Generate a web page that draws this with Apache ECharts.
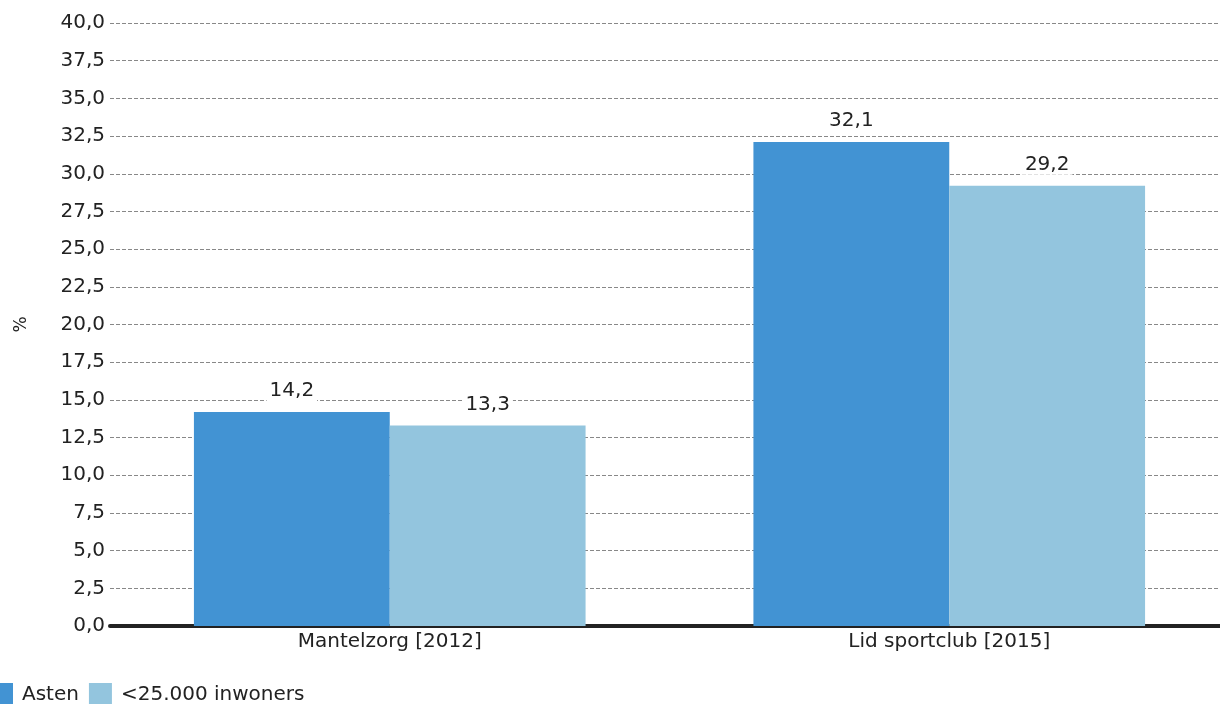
<!DOCTYPE html>
<html><head><meta charset="utf-8">
<script src="https://cdn.jsdelivr.net/npm/echarts@6/dist/echarts.min.js"></script>
<style>html,body{margin:0;padding:0;background:#fff}#c{width:1220px;height:704px}</style>
</head><body><div id="c"></div>
<script>
const categories = ['Mantelzorg [2012]', 'Lid sportclub [2015]'];
const seriesNames = ['Asten', '<25.000 inwoners'];
const asten = [14.2, 32.1];
const small = [13.3, 29.2];
const colors = ['#4293d3', '#93c5de'];
const fmt = v => v.toFixed(1).replace('.', ',');
const font = 'DejaVu Sans, Verdana, sans-serif';
const fs = 20;
const chart = echarts.init(document.getElementById('c'));
const mk = (name, data, color) => ({
  name, type: 'bar', data, barGap: 0, barCategoryGap: '30%',
  itemStyle: { color },
  label: { show: true, position: 'top', distance: 11, color: '#222', fontFamily: font, fontSize: fs,
    backgroundColor: '#fff', padding: [0, 3], formatter: p => fmt(p.value) },
  emphasis: { disabled: true }
});
chart.setOption({
  animation: false,
  grid: { left: 110, width: 1119, top: 23, bottom: 78, containLabel: false, outerBoundsMode: 'none' },
  legend: { left: -10, top: 683, padding: 0, itemWidth: 23, itemHeight: 23, itemGap: 10, icon: 'rect',
    textStyle: { fontFamily: font, fontSize: fs, color: '#222', padding: [0, 0, 0, 4] }, data: seriesNames },
  xAxis: { type: 'category', data: categories,
    axisLine: { lineStyle: { color: '#222', width: 4 } }, axisTick: { show: false },
    axisLabel: { fontFamily: font, fontSize: fs, color: '#222', margin: 6 } },
  yAxis: { type: 'value', min: 0, max: 40, interval: 2.5,
    name: '%', nameLocation: 'middle', nameGap: 80, nameRotate: 90,
    nameTextStyle: { fontFamily: font, fontSize: 17, color: '#222' },
    axisLine: { show: false }, axisTick: { show: false },
    axisLabel: { fontFamily: font, fontSize: fs, color: '#222', margin: 5, formatter: v => fmt(v) },
    splitLine: { lineStyle: { color: '#888', type: [4, 2], width: 1 } } },
  series: [mk(seriesNames[0], asten, colors[0]), mk(seriesNames[1], small, colors[1])]
});
</script></body></html>
